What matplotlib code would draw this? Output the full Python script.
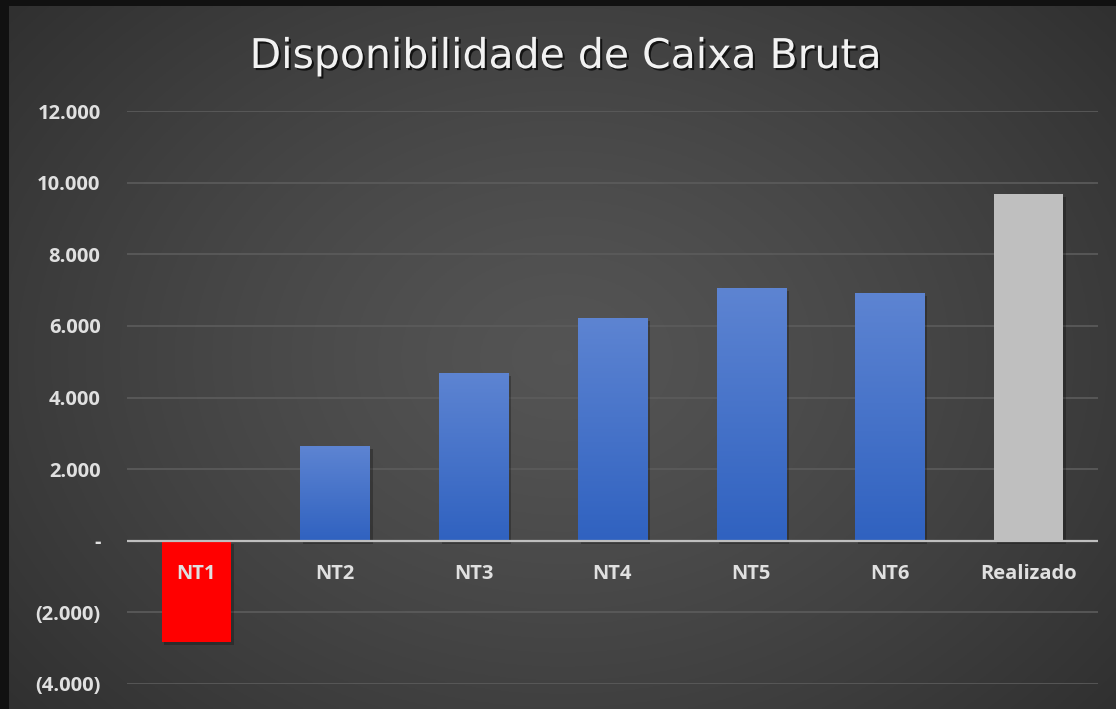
import matplotlib
matplotlib.use('Agg')
import matplotlib.pyplot as plt
import matplotlib.patheffects as pe
import numpy as np

categories = ['NT1', 'NT2', 'NT3', 'NT4', 'NT5', 'NT6', 'Realizado']
values = [-2820, 2630, 4690, 6220, 7060, 6920, 9680]
yticks = [-4000, -2000, 0, 2000, 4000, 6000, 8000, 10000, 12000]


def fmt(v):
    if v == 0:
        return '-'
    s = f'{abs(v):,.0f}'.replace(',', '.')
    return f'({s})' if v < 0 else s


fig = plt.figure(figsize=(11.16, 7.09), dpi=100)
fig.patch.set_facecolor('#111111')

# background with radial gradient
bg = fig.add_axes([9 / 1116, 0, 1 - 9 / 1116, 1 - 6 / 709])
bg.axis('off')
yy, xx = np.mgrid[0:1:300j, 0:1:500j]
r = np.sqrt(((xx - 0.5) / 0.75) ** 2 + ((yy - 0.5) / 0.9) ** 2)
shade = 0.33 - 0.17 * np.clip(r, 0, 1) ** 1.3
bg.imshow(np.dstack([shade] * 3), aspect='auto', extent=(0, 1, 0, 1))
bg.set_xlim(0, 1)
bg.set_ylim(0, 1)

ax = fig.add_axes([127 / 1116, 1 - 684 / 709, (1098 - 127) / 1116, (684 - 111) / 709])
ax.patch.set_alpha(0)
ax.set_xlim(-0.5, len(categories) - 0.5)
ax.set_ylim(-4000, 12000)

for y in yticks:
    if y != 0:
        ax.axhline(y, color='#5c5c5c', lw=1.2, zorder=1)

shadow = [pe.SimplePatchShadow(offset=(2, -2), shadow_rgbFace='black', alpha=0.25), pe.Normal()]
w = 0.5
blue_top = np.array([0x5d, 0x84, 0xd2]) / 255
blue_bot = np.array([0x30, 0x62, 0xc0]) / 255
for i, (c, v) in enumerate(zip(categories, values)):
    if c == 'NT1':
        ax.bar(i, v, width=w, color='#ff0000', zorder=2, path_effects=shadow)
    elif c == 'Realizado':
        ax.bar(i, v, width=w, color='#bfbfbf', zorder=2, path_effects=shadow)
    else:
        ax.bar(i, v, width=w, color=blue_bot, zorder=2, path_effects=shadow)
        t = np.linspace(0, 1, 100)[:, None]
        grad = blue_top * (1 - t[..., None]) + blue_bot * t[..., None]
        ax.imshow(grad, aspect='auto', extent=(i - w / 2, i + w / 2, 0, v),
                  zorder=3, interpolation='bilinear')

ax.set_xlim(-0.5, len(categories) - 0.5)
ax.set_ylim(-4000, 12000)
ax.axhline(0, color='#bfbfbf', lw=1.6, zorder=4)

for i, c in enumerate(categories):
    ax.text(i, -920, c, ha='center', va='center', fontsize=14.5, fontweight='bold',
            color='#e0e0e0', zorder=5, family='Open Sans', fontstretch='semi-condensed')

ax.set_yticks(yticks)
ax.set_yticklabels([fmt(v) for v in yticks])
ax.tick_params(axis='y', length=0, pad=19, labelsize=14.5, labelcolor='#e0e0e0')
for lab in ax.get_yticklabels():
    lab.set_fontweight('bold')
    lab.set_family('Open Sans')
ax.set_xticks([])
for s in ax.spines.values():
    s.set_visible(False)

fig.text(0.507, 1 - 57 / 709, 'Disponibilidade de Caixa Bruta', ha='center', va='center',
         fontsize=29.5, color='#f2f2f2', family='DejaVu Sans',
         path_effects=[pe.withSimplePatchShadow(offset=(1.5, -1.5), shadow_rgbFace='black', alpha=0.7)])

fig.savefig('out.png', dpi=100, facecolor=fig.get_facecolor())
